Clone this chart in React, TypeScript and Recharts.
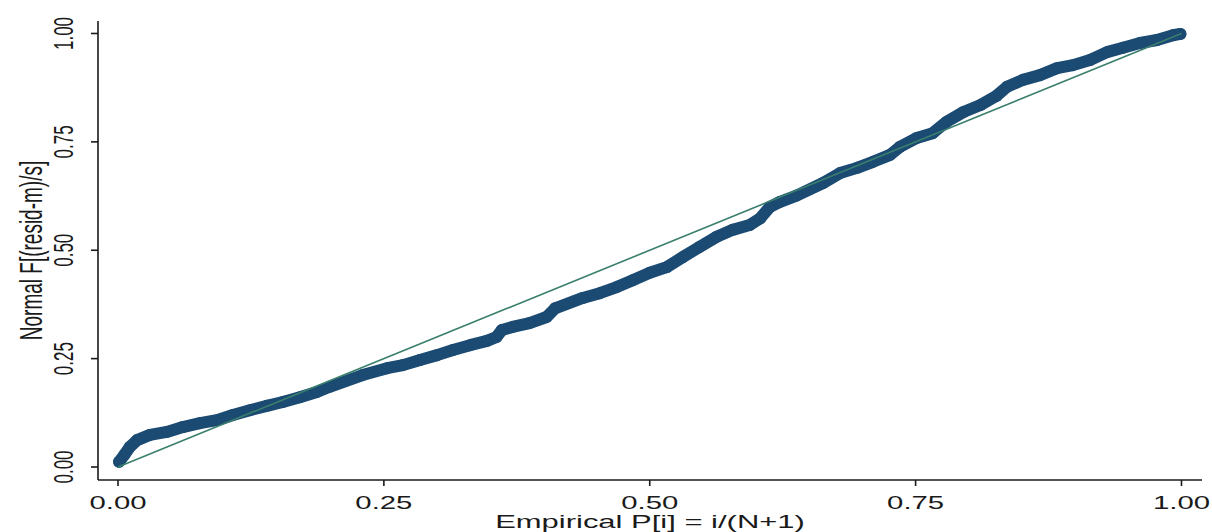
import React from "react";
import { ComposedChart, Scatter, XAxis, YAxis, Label } from "recharts";

const empiricalP = [
  0.001, 0.006, 0.011, 0.018, 0.03, 0.046, 0.061, 0.077, 0.093, 0.108, 0.124,
  0.14, 0.155, 0.171, 0.187, 0.199, 0.23, 0.253, 0.268, 0.284, 0.3, 0.315,
  0.331, 0.347, 0.356, 0.361, 0.371, 0.387, 0.403, 0.411, 0.437, 0.453, 0.469,
  0.484, 0.5, 0.516, 0.531, 0.547, 0.563, 0.578, 0.594, 0.604, 0.613, 0.622,
  0.638, 0.663, 0.679, 0.695, 0.71, 0.726, 0.735, 0.751, 0.766, 0.779, 0.795,
  0.811, 0.826, 0.836, 0.851, 0.867, 0.883, 0.898, 0.914, 0.93, 0.945, 0.961,
  0.977, 0.992, 0.999,
];

// normal F[(resid-m)/s]
const normalF = [
  0.012, 0.028, 0.046, 0.062, 0.074, 0.081, 0.092, 0.101, 0.108, 0.12, 0.131,
  0.141, 0.15, 0.161, 0.173, 0.185, 0.212, 0.228, 0.235, 0.247, 0.258, 0.27,
  0.281, 0.291, 0.3, 0.316, 0.323, 0.332, 0.346, 0.366, 0.39, 0.401, 0.415,
  0.431, 0.448, 0.461, 0.484, 0.508, 0.531, 0.547, 0.558, 0.574, 0.6, 0.611,
  0.626, 0.655, 0.678, 0.69, 0.704, 0.72, 0.738, 0.759, 0.77, 0.796, 0.819,
  0.835, 0.856, 0.877, 0.893, 0.904, 0.92, 0.927, 0.939, 0.957, 0.967, 0.978,
  0.985, 0.996, 0.999,
];

// 45 degree reference line
const refP = [0, 1];
const refF = [0, 1];

const ticks = [0, 0.25, 0.5, 0.75, 1];

const points = empiricalP.map((p, i) => ({ p, f: normalF[i] }));
const refPoints = refP.map((p, i) => ({ p, f: refF[i] }));

const FONT = "'Liberation Sans', Arial, sans-serif";
const STRETCH = 1.63;
const BAND = "#1b4a72";
const REF = "#3a7f6d";
const INK = "#1a1a1a";

const XTick = (props: any) => {
  const { x, y, payload } = props;
  return (
    <g transform={`translate(${x},${y + 21}) scale(${STRETCH},1)`}>
      <text x={0} y={0} textAnchor="middle" fontSize={18} fontFamily={FONT} fill={INK}>
        {Number(payload.value).toFixed(2)}
      </text>
    </g>
  );
};

const YTick = (props: any) => {
  const { x, y, payload } = props;
  return (
    <g transform={`translate(${x - 16},${y}) scale(${STRETCH},1) rotate(-90)`}>
      <text x={0} y={0} textAnchor="middle" fontSize={17} fontFamily={FONT} fill={INK}>
        {Number(payload.value).toFixed(2)}
      </text>
    </g>
  );
};

const XTitle = (props: any) => {
  const vb = props.viewBox;
  return (
    <g transform={`translate(${vb.x + vb.width / 2},${vb.y + 48}) scale(${STRETCH},1)`}>
      <text x={0} y={0} textAnchor="middle" fontSize={19} fontFamily={FONT} fill={INK}>
        Empirical P[i] = i/(N+1)
      </text>
    </g>
  );
};

const YTitle = (props: any) => {
  const vb = props.viewBox;
  return (
    <g transform={`translate(42,${vb.y + vb.height / 2}) scale(${STRETCH},1) rotate(-90)`}>
      <text x={0} y={0} textAnchor="middle" fontSize={19} fontFamily={FONT} fill={INK}>
        Normal F[(resid-m)/s]
      </text>
    </g>
  );
};

const Dot = (props: any) => <circle cx={props.cx} cy={props.cy} r={6} fill={BAND} />;
const NoDot = () => <g />;

const axisStyle = { stroke: INK, strokeWidth: 1.6 };

export default function App() {
  return (
    <div style={{ position: "absolute", left: 0, top: 0, background: "#fff" }}>
      <ComposedChart
        width={1212}
        height={532}
        margin={{ top: 21, right: 10, bottom: 0, left: 0 }}
      >
        <XAxis
          type="number"
          dataKey="p"
          domain={[-0.0188, 1.0193]}
          ticks={ticks}
          allowDataOverflow
          height={52}
          tickSize={6}
          tickMargin={2}
          axisLine={axisStyle}
          tickLine={axisStyle}
          tick={<XTick />}
        >
          <Label content={<XTitle />} />
        </XAxis>
        <YAxis
          type="number"
          dataKey="f"
          domain={[-0.03, 1.0288]}
          ticks={ticks}
          allowDataOverflow
          width={98}
          tickSize={7}
          tickMargin={2}
          axisLine={axisStyle}
          tickLine={axisStyle}
          tick={<YTick />}
        >
          <Label content={<YTitle />} />
        </YAxis>
        <Scatter
          data={points}
          fill={BAND}
          shape={<Dot />}
          line={{ stroke: BAND, strokeWidth: 12, strokeLinejoin: "round", strokeLinecap: "round" }}
          isAnimationActive={false}
        />
        <Scatter
          data={refPoints}
          fill={REF}
          shape={<NoDot />}
          line={{ stroke: REF, strokeWidth: 1.6 }}
          isAnimationActive={false}
        />
      </ComposedChart>
    </div>
  );
}
